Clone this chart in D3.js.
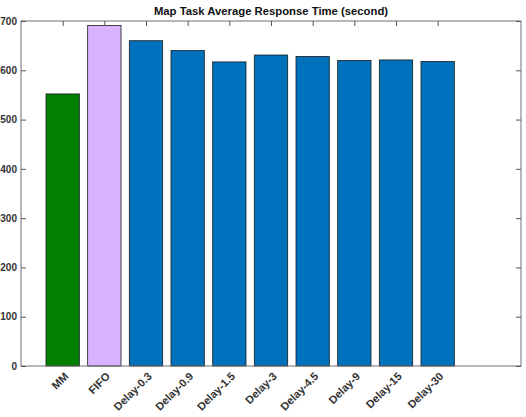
<!DOCTYPE html>
<html>
<head>
<meta charset="utf-8">
<script src="https://cdn.jsdelivr.net/npm/d3@7"></script>
<style>
  body { margin: 0; background: #fff; }
  text { font-family: "Liberation Sans", Arial, sans-serif; }
</style>
</head>
<body>
<svg></svg>
<script>
var WIDTH = 526;
var HEIGHT = 417;

var categories = ['MM', 'FIFO', 'Delay-0.3', 'Delay-0.9', 'Delay-1.5', 'Delay-3', 'Delay-4.5', 'Delay-9', 'Delay-15', 'Delay-30'];
var values = [552, 691, 660, 640, 617, 631, 628, 620, 621, 618];
var colors = ['#007f00', '#d9b3ff', '#0072bd', '#0072bd', '#0072bd', '#0072bd', '#0072bd', '#0072bd', '#0072bd', '#0072bd'];
var yTicks = [0, 100, 200, 300, 400, 500, 600, 700];

// plot box edges (note: "top" is reserved on window)
var PL = 21, PR = 521, PT = 21, PB = 366;

var svg = d3.select('svg')
  .attr('width', WIDTH)
  .attr('height', HEIGHT);

var xScale = d3.scaleLinear().domain([0, 12]).range([PL, PR]);
var yScale = d3.scaleLinear().domain([0, 700]).range([PB, PT]);

var barW = xScale(0.8) - xScale(0);

// bars
svg.append('g').selectAll('rect')
  .data(values)
  .enter()
  .append('rect')
  .attr('x', function(d, i){ return xScale(i + 1) - barW / 2; })
  .attr('y', function(d){ return yScale(d); })
  .attr('width', barW)
  .attr('height', function(d){ return yScale(0) - yScale(d); })
  .attr('fill', function(d, i){ return colors[i]; })
  .attr('stroke', '#1a1a1a')
  .attr('stroke-width', 0.8);

// box
svg.append('rect')
  .attr('x', PL).attr('y', PT)
  .attr('width', PR - PL).attr('height', PB - PT)
  .attr('fill', 'none')
  .attr('stroke', '#707070')
  .attr('stroke-width', 1);

var tickColor = '#555';

// y axis left (ticks inward)
var leftAxis = d3.axisLeft(yScale).tickValues(yTicks).tickSize(-5).tickPadding(4);
var gl = svg.append('g').attr('transform', 'translate(' + PL + ',0)').call(leftAxis);
gl.select('.domain').remove();
gl.selectAll('line').attr('stroke', tickColor);
gl.selectAll('text')
  .style('font-size', '10px')
  .style('font-weight', 'bold')
  .attr('fill', '#333');

// y axis right ticks
var rightAxis = d3.axisRight(yScale).tickValues(yTicks).tickSize(-5).tickFormat('');
var gr = svg.append('g').attr('transform', 'translate(' + PR + ',0)').call(rightAxis);
gr.select('.domain').remove();
gr.selectAll('line').attr('stroke', tickColor);

// top ticks
var xTicks = d3.range(1, categories.length + 1);
var topAxis = d3.axisTop(xScale).tickValues(xTicks).tickSize(-5).tickFormat('');
var gt = svg.append('g').attr('transform', 'translate(0,' + PT + ')').call(topAxis);
gt.select('.domain').remove();
gt.selectAll('line').attr('stroke', tickColor);

// bottom labels
var botAxis = d3.axisBottom(xScale).tickValues(xTicks).tickSize(0)
  .tickFormat(function(d){ return categories[d - 1]; });
var gb = svg.append('g').attr('transform', 'translate(0,' + PB + ')').call(botAxis);
gb.select('.domain').remove();
gb.selectAll('text')
  .style('font-size', '11px')
  .style('font-weight', 'bold')
  .attr('fill', '#333')
  .attr('text-anchor', 'end')
  .attr('dy', null)
  .attr('y', 0)
  .attr('transform', 'translate(6,11) rotate(-45)');

// title
svg.append('text')
  .attr('x', (PL + PR) / 2)
  .attr('y', 15)
  .attr('text-anchor', 'middle')
  .style('font-size', '11.3px')
  .style('font-weight', 'bold')
  .attr('fill', '#111')
  .text('Map Task Average Response Time (second)');
</script>
</body>
</html>
